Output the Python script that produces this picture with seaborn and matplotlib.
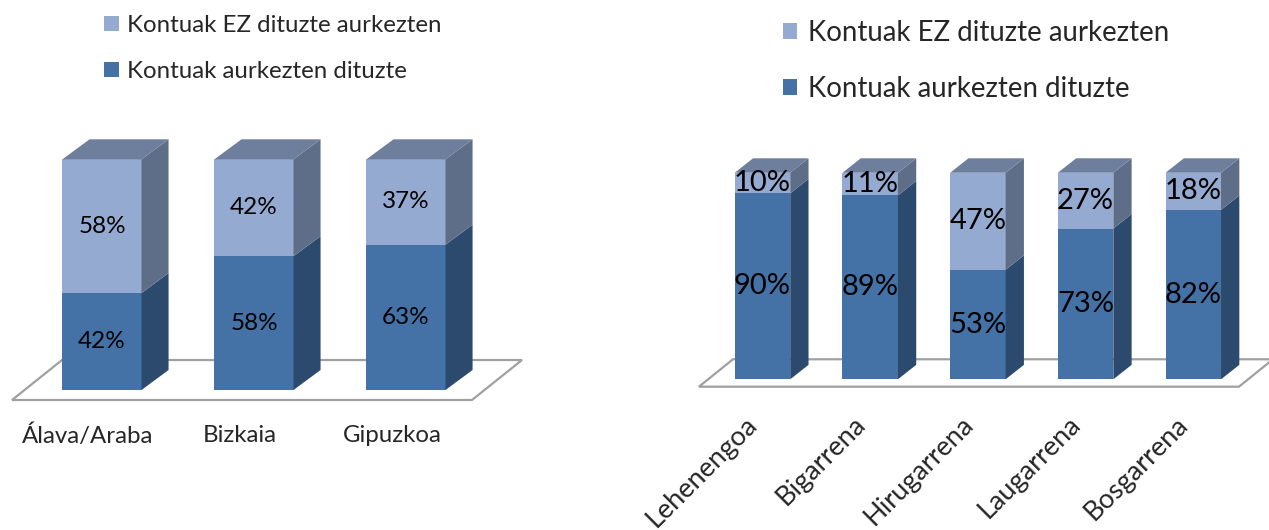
import numpy as np
import pandas as pd
import matplotlib
matplotlib.use("Agg")
import matplotlib.pyplot as plt
import seaborn as sns
from matplotlib.patches import Polygon
from matplotlib.transforms import ScaledTranslation

# dati
probintziak = ["Álava/Araba", "Bizkaia", "Gipuzkoa"]
aurkeztu_prob = [42, 58, 63]
ez_aurkeztu_prob = [58, 42, 37]

aldiak = ["Lehenengoa", "Bigarrena", "Hirugarrena", "Laugarrena", "Bosgarrena"]
aurkeztu_aldi = [90, 89, 53, 73, 82]
ez_aurkeztu_aldi = [10, 11, 47, 27, 18]

lbl_ez = "Kontuak EZ dituzte aurkezten"
lbl_bai = "Kontuak aurkezten dituzte"

# colori
c_dark = "#4472A7"
c_dark_side = "#2C496E"
c_light = "#95AAD0"
c_light_side = "#5E6E89"
c_top = "#6E7E9D"
c_floor = "#A0A0A0"

sns.set_style("white")
plt.rcParams["font.family"] = ["Lato", "DejaVu Sans"]

fig = plt.figure(figsize=(12.69, 5.30), dpi=100)
W, H = 1269, 530


def grafiko_3d(ax, cats, bai, ez, width, dx, dy, fsize):
    df = pd.DataFrame({"cat": cats, "bai": bai, "guztira": np.array(bai) + np.array(ez)})
    # barra totale chiara sotto, barra scura sopra
    sns.barplot(data=df, x="cat", y="guztira", color=c_light, saturation=1,
                width=width, linewidth=0, ax=ax)
    sns.barplot(data=df, x="cat", y="bai", color=c_dark, saturation=1,
                width=width, linewidth=0, ax=ax)
    n = len(cats)
    light_p = ax.patches[:n]
    dark_p = ax.patches[n:2 * n]
    for lp, dp, v_bai, v_ez in zip(light_p, dark_p, bai, ez):
        x0 = dp.get_x()
        x1 = x0 + dp.get_width()
        yb = dp.get_height()
        yt = lp.get_height()
        # lati
        ax.add_patch(Polygon([(x1, 0), (x1 + dx, dy), (x1 + dx, yb + dy), (x1, yb)],
                             closed=True, fc=c_dark_side, ec="none", zorder=2))
        ax.add_patch(Polygon([(x1, yb), (x1 + dx, yb + dy), (x1 + dx, yt + dy), (x1, yt)],
                             closed=True, fc=c_light_side, ec="none", zorder=2))
        # sopra
        ax.add_patch(Polygon([(x0, yt), (x0 + dx, yt + dy), (x1 + dx, yt + dy), (x1, yt)],
                             closed=True, fc=c_top, ec="none", zorder=2))
        xc = (x0 + x1) / 2
        ax.text(xc, yb / 2, f"{v_bai}%", ha="center", va="center",
                fontsize=fsize, color="black", zorder=3)
        ax.text(xc, (yb + yt) / 2, f"{v_ez}%", ha="center", va="center",
                fontsize=fsize, color="black", zorder=3)
    sns.despine(ax=ax, left=True, bottom=True)
    ax.set_yticks([])
    ax.set_xlabel("")
    ax.set_ylabel("")
    ax.tick_params(axis="x", length=0)
    return light_p[0], dark_p[0]


# ---- grafico sinistro ----
ax1 = fig.add_axes([0, (H - 400) / H, 634 / W, 270 / H])
h_ez, h_bai = grafiko_3d(ax1, probintziak, aurkeztu_prob, ez_aurkeztu_prob,
                         0.52, 0.178, 8.67, 17.5)
ax1.set_xlim(-0.671, 3.5)
ax1.set_ylim(-4.33, 112.7)
ax1.add_patch(Polygon([(-0.592, -4.33), (2.434, -4.33), (2.763, 13.0), (-0.263, 13.0)],
                      closed=True, fc="white", ec=c_floor, lw=1.6, zorder=0,
                      clip_on=False))
ax1.set_xticks(range(len(probintziak)), probintziak, fontsize=17.3)
ax1.tick_params(axis="x", pad=18)
for t in ax1.get_xticklabels():
    t.set_transform(t.get_transform() + ScaledTranslation(-0.14, 0, fig.dpi_scale_trans))
ax1.legend([h_ez, h_bai], [lbl_ez, lbl_bai], loc="upper left",
           bbox_to_anchor=(104 / W, 1 - 15 / H), bbox_transform=fig.transFigure,
           frameon=False, fontsize=17.3, handlelength=0.62, handleheight=0.62,
           handletextpad=0.33, labelspacing=1.04, borderpad=0, borderaxespad=0)

# ---- grafico destro ----
ax2 = fig.add_axes([634 / W, (H - 386.7) / H, 635 / W, 256.7 / H])
h_ez2, h_bai2 = grafiko_3d(ax2, aldiak, aurkeztu_aldi, ez_aurkeztu_aldi,
                           0.515, 0.17, 7.0, 21)
ax2.set_xlim(-1.193, 4.703)
ax2.set_ylim(-3.58, 120.7)
ax2.add_patch(Polygon([(-0.59, -3.58), (4.424, -3.58), (4.74, 9.7), (-0.274, 9.7)],
                      closed=True, fc="white", ec=c_floor, lw=1.6, zorder=0,
                      clip_on=False))
ax2.set_xticks(range(len(aldiak)), aldiak, fontsize=19.5, rotation=45, ha="right")
ax2.tick_params(axis="x", pad=18)
ax2.legend([h_ez2, h_bai2], [lbl_ez, lbl_bai], loc="upper left",
           bbox_to_anchor=(783 / W, 1 - 20 / H), bbox_transform=fig.transFigure,
           frameon=False, fontsize=19.9, handlelength=0.5, handleheight=0.5,
           handletextpad=0.4, labelspacing=1.07, borderpad=0, borderaxespad=0)

fig.savefig("out.png", dpi=100)
